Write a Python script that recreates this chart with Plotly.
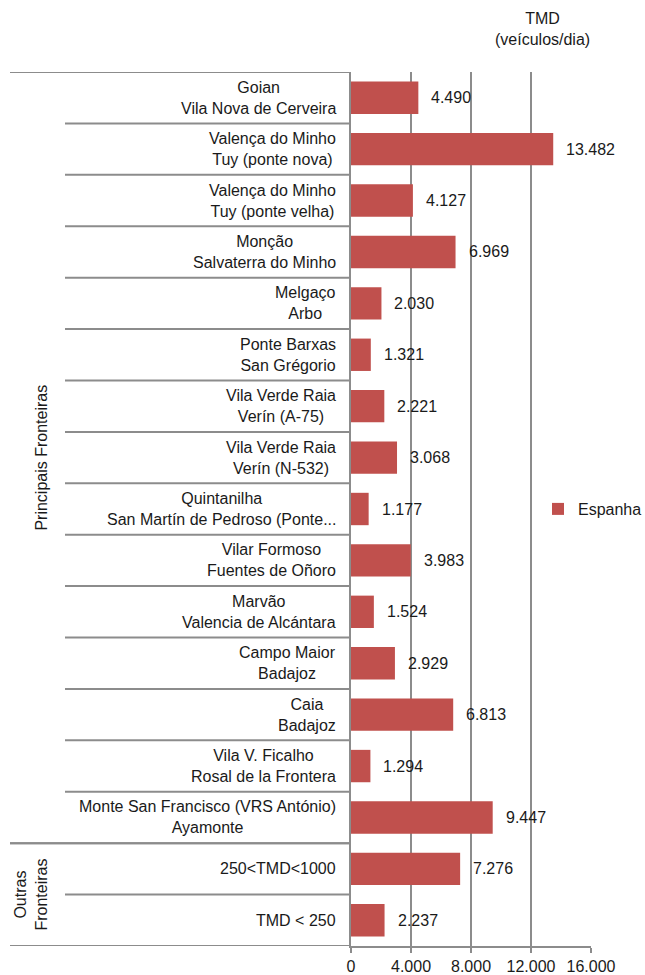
import plotly.graph_objects as go

# ---- data ----
categories = [
    "Goian<br>Vila Nova de Cerveira",
    "Valença do Minho<br>Tuy (ponte nova)",
    "Valença do Minho<br>Tuy (ponte velha)",
    "Monção<br>Salvaterra do Minho",
    "Melgaço<br>Arbo",
    "Ponte Barxas<br>San Grégorio",
    "Vila Verde Raia<br>Verín (A-75)",
    "Vila Verde Raia<br>Verín (N-532)",
    "Quintanilha<br>San Martín de Pedroso (Ponte...",
    "Vilar Formoso<br>Fuentes de Oñoro",
    "Marvão<br>Valencia de Alcántara",
    "Campo Maior<br>Badajoz",
    "Caia<br>Badajoz",
    "Vila V. Ficalho<br>Rosal de la Frontera",
    "Monte San Francisco (VRS António)<br>Ayamonte",
    "250<TMD<1000",
    "TMD < 250",
]
values = [4490, 13482, 4127, 6969, 2030, 1321, 2221, 3068, 1177, 3983,
          1524, 2929, 6813, 1294, 9447, 7276, 2237]
groups = ["Principais Fronteiras"] * 15 + ["Outras<br>Fronteiras"] * 2
series_name = "Espanha"
x_ticks = [0, 4000, 8000, 12000, 16000]
title_text = "TMD<br>(veículos/dia)"

# ---- style ----
FONT = "Liberation Sans, Arial, sans-serif"
TXT = "#1a1a1a"
GRID = "#8c8c8c"
BAR = "#C0504D"
L, R, T, B = 351, 54, 72, 29
W, H = 645, 975
PW = W - L - R
PH = H - T - B


def px_to_paper_x(px):
    return (px - L) / PW


def px_to_paper_y(py):
    return 1 - (py - T) / PH


idx = list(range(len(categories)))

fig = go.Figure()
fig.add_trace(go.Bar(
    y=idx, x=values, orientation="h", name=series_name,
    marker=dict(color=BAR, line=dict(width=0)), width=0.63,
    showlegend=True, hoverinfo="x",
))

annotations = []
# chart title
annotations.append(dict(
    x=px_to_paper_x(542), xref="paper", y=px_to_paper_y(29), yref="paper",
    text=title_text, showarrow=False, xanchor="center", yanchor="middle",
    align="center", font=dict(family=FONT, size=16, color=TXT)))
# category labels (centered blocks, right aligned to the axis)
for i, c in enumerate(categories):
    annotations.append(dict(
        x=px_to_paper_x(338), xref="paper", y=i, yref="y",
        text=c, showarrow=False, xanchor="right", yanchor="middle",
        align="center", font=dict(family=FONT, size=16, color=TXT)))
# value labels
for i, v in enumerate(values):
    annotations.append(dict(
        x=v, xref="x", y=i, yref="y", text=f"{v:,}".replace(",", "."),
        showarrow=False, xanchor="left", yanchor="middle", xshift=11,
        font=dict(family=FONT, size=16, color=TXT)))
# group labels
seen = []
for g in groups:
    if g not in seen:
        seen.append(g)
shapes = []
for g in seen:
    members = [i for i, gg in enumerate(groups) if gg == g]
    center = (members[0] + members[-1]) / 2
    gx = 42 if "<br>" not in g else 31
    annotations.append(dict(
        x=px_to_paper_x(gx), xref="paper", y=center, yref="y",
        text=g, showarrow=False, textangle=-90, xanchor="center",
        yanchor="middle", align="center",
        font=dict(family=FONT, size=16, color=TXT)))
    # group boundary lines (top & bottom) full width of the label area
    for yy in (members[0] - 0.5, members[-1] + 0.5):
        shapes.append(dict(type="line", xref="paper", yref="y",
                           x0=px_to_paper_x(10), x1=0, y0=yy, y1=yy,
                           line=dict(color=GRID, width=2)))
    # inner separators
    for m in members[:-1]:
        shapes.append(dict(type="line", xref="paper", yref="y",
                           x0=px_to_paper_x(65), x1=0, y0=m + 0.5, y1=m + 0.5,
                           line=dict(color=GRID, width=2)))

fig.update_layout(
    width=W, height=H,
    margin=dict(l=L, r=R, t=T, b=B, autoexpand=False),
    paper_bgcolor="white", plot_bgcolor="white",
    separators=",.",
    font=dict(family=FONT, size=16, color=TXT),
    xaxis=dict(range=[0, 16000], tickvals=x_ticks, tickformat=",d",
               showgrid=True, gridcolor=GRID, gridwidth=1.5,
               zeroline=False, showline=True, linecolor=GRID, linewidth=2,
               ticks="outside", ticklen=5, tickcolor=GRID, tickwidth=1.5,
               tickfont=dict(family=FONT, size=16, color=TXT), fixedrange=True),
    yaxis=dict(range=[len(categories) - 0.5, -0.5], showticklabels=False,
               showgrid=False, zeroline=False, showline=True,
               linecolor=GRID, linewidth=2, ticks="", fixedrange=True),
    legend=dict(x=px_to_paper_x(538), xanchor="left", y=0.5, yanchor="middle",
                bgcolor="rgba(0,0,0,0)", font=dict(family=FONT, size=16, color=TXT)),
    showlegend=True,
    annotations=annotations,
    shapes=shapes,
    bargap=0.37,
)

fig.write_html(
    "out.html",
    config={"displayModeBar": False},
    post_script="document.body.style.margin='0';document.body.style.overflow='hidden';",
)
